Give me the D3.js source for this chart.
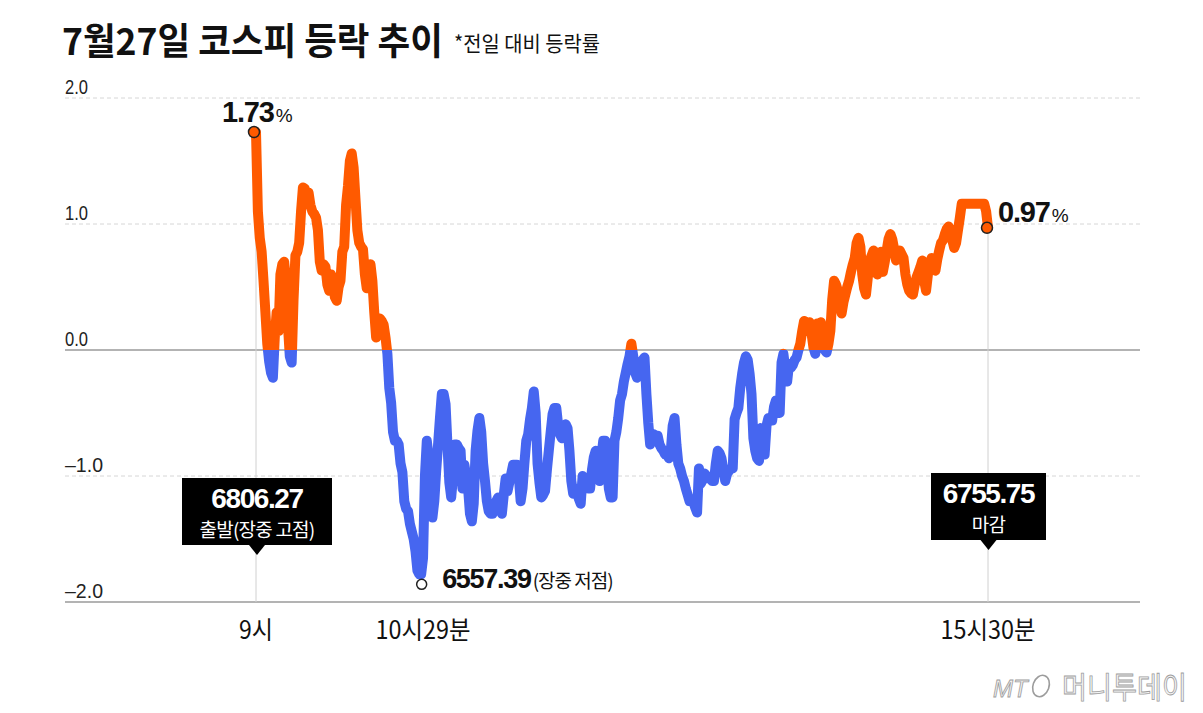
<!DOCTYPE html>
<html>
<head>
<meta charset="utf-8">
<script src="https://cdn.jsdelivr.net/npm/d3@7"></script>
<style>
  body { margin: 0; background: #fff; }
  svg text { font-family: "Noto Sans CJK KR", "Noto Sans", sans-serif; }
  .num { font-family: "Liberation Sans", Arial, sans-serif; }
</style>
</head>
<body>
<svg width="1203" height="713"></svg>
<script>
// y axis
const yTicks = [2, 1, 0, -1, -2];
const yTickLabels = ["2.0", "1.0", "0.0", "–1.0", "–2.0"];

// x axis (minutes after 9:00)
const xTicks = [0, 89, 390];
const xTickLabels = ["9시", "10시29분", "15시30분"];

// KOSPI change vs previous close (%), one value per minute from 9:00 to 15:30
const pct = [
  1.73, 1.10, 0.89, 0.78, 0.55, 0.30, 0.05, -0.09, -0.18, -0.22,
  0.10, 0.30, 0.15, 0.60, 0.68, 0.70, 0.55, 0.20, -0.05, -0.10,
  0.40, 0.75, 0.78, 0.85, 1.10, 1.29, 1.28, 1.22, 1.25, 1.15,
  1.10, 1.08, 1.05, 0.95, 0.70, 0.63, 0.68, 0.66, 0.52, 0.47,
  0.60, 0.55, 0.42, 0.39, 0.50, 0.55, 0.78, 0.82, 1.15, 1.30,
  1.50, 1.56, 1.45, 1.20, 0.95, 0.85, 0.82, 0.80, 0.60, 0.49,
  0.65, 0.68, 0.55, 0.30, 0.10, 0.20, 0.25, 0.23, 0.20, 0.10,
  -0.03, -0.30, -0.42, -0.65, -0.72, -0.72, -0.75, -0.90, -0.97, -1.20,
  -1.26, -1.28, -1.38, -1.44, -1.50, -1.60, -1.75, -1.78, -1.78, -1.65,
  -1.00, -0.72, -0.85, -0.96, -1.33, -1.20, -0.96, -0.75, -0.54, -0.35,
  -0.35, -0.43, -0.75, -1.05, -1.17, -1.00, -0.75, -0.75, -0.78, -0.80,
  -1.10, -0.91, -1.00, -1.10, -1.30, -1.36, -1.22, -0.80, -0.64, -0.54,
  -0.65, -0.90, -1.04, -1.20, -1.28, -1.30, -1.30, -1.25, -1.20, -1.17,
  -1.20, -1.30, -1.15, -1.02, -1.12, -1.05, -0.98, -0.91, -0.91, -0.91,
  -1.00, -1.20, -1.10, -0.90, -0.72, -0.67, -0.55, -0.46, -0.33, -0.50,
  -0.90, -1.05, -1.17, -1.15, -1.12, -0.95, -0.80, -0.65, -0.51, -0.46,
  -0.46, -0.60, -0.67, -0.70, -0.65, -0.59, -0.62, -0.80, -1.04, -1.14,
  -1.10, -1.12, -1.18, -1.22, -1.00, -1.02, -1.04, -1.10, -1.10, -0.95,
  -0.85, -0.80, -0.90, -1.04, -0.85, -0.72, -0.72, -0.90, -1.10, -1.17,
  -1.17, -0.72, -0.65, -0.54, -0.40, -0.35, -0.25, -0.18, -0.11, -0.05,
  0.05, -0.05, -0.18, -0.22, -0.16, -0.14, -0.08, -0.06, -0.35, -0.58,
  -0.75, -0.68, -0.67, -0.68, -0.68, -0.75, -0.78, -0.80, -0.83, -0.83,
  -0.86, -0.80, -0.60, -0.54, -0.75, -0.90, -0.94, -1.00, -1.04, -1.10,
  -1.15, -1.20, -1.20, -1.20, -1.25, -1.29, -0.94, -1.06, -1.03, -0.98,
  -1.00, -1.02, -1.02, -1.04, -1.04, -0.90, -0.80, -0.82, -0.86, -0.95,
  -1.04, -0.98, -0.96, -0.94, -0.94, -0.55, -0.50, -0.46, -0.30, -0.19,
  -0.10, -0.05, -0.08, -0.19, -0.35, -0.70, -0.80, -0.86, -0.88, -0.62,
  -0.75, -0.83, -0.60, -0.54, -0.56, -0.56, -0.45, -0.40, -0.50, -0.50,
  -0.10, -0.03, -0.15, -0.25, -0.11, -0.14, -0.12, -0.08, -0.06, 0.00,
  0.05, 0.15, 0.23, 0.15, 0.20, 0.22, 0.13, 0.02, -0.03, 0.21,
  0.20, 0.22, 0.10, 0.00, -0.02, 0.05, 0.15, 0.40, 0.55, 0.52,
  0.47, 0.38, 0.29, 0.38, 0.44, 0.50, 0.55, 0.62, 0.68, 0.73,
  0.85, 0.89, 0.82, 0.60, 0.49, 0.44, 0.58, 0.71, 0.75, 0.79,
  0.65, 0.60, 0.75, 0.78, 0.62, 0.70, 0.79, 0.88, 0.92, 0.88,
  0.80, 0.71, 0.76, 0.79, 0.76, 0.73, 0.60, 0.52, 0.47, 0.45,
  0.44, 0.52, 0.58, 0.62, 0.66, 0.71, 0.55, 0.47, 0.60, 0.68,
  0.73, 0.68, 0.63, 0.72, 0.79, 0.85, 0.87, 0.92, 0.96, 0.98,
  0.95, 0.87, 0.81, 0.85, 0.95, 1.05, 1.16, 1.16, 1.16, 1.16,
  1.16, 1.16, 1.16, 1.16, 1.16, 1.16, 1.16, 1.16, 1.16, 1.10,
  0.97
];

// marked points
const highMin = 0, highPct = 1.73, highIdx = "6806.27";
const lowMin = 88, lowPct = -1.86, lowIdx = "6557.39";
const closeMin = 390, closePct = 0.97, closeIdx = "6755.75";

const orange = "#ff5a00", blue = "#4666f0";

const svg = d3.select("svg");
const x = d3.scaleLinear().domain([0, 390]).range([256, 988]);
const y = d3.scaleLinear().domain([-2, 2]).range([602, 98]);
const left = 65, right = 1140;

// squeeze a text horizontally so it is w px wide (the source font is condensed)
function fit(t, px, py, w) {
  t.attr("x", 0).attr("y", 0);
  const s = w / t.node().getComputedTextLength();
  t.attr("transform", `translate(${px},${py}) scale(${s},1)`);
  return t;
}

// title
fit(svg.append("text")
  .attr("font-size", 37).attr("font-weight", 700).attr("fill", "#111")
  .text("7월27일 코스피 등락 추이"), 62, 55, 381);
fit(svg.append("text")
  .attr("font-size", 21).attr("fill", "#111")
  .text("*전일 대비 등락률"), 454, 51, 146);

// grid
yTicks.forEach((t, i) => {
  const solid = t === 0 || t === -2;
  svg.append("line")
    .attr("x1", left).attr("x2", right)
    .attr("y1", y(t)).attr("y2", y(t))
    .attr("stroke", solid ? "#9a9a9a" : "#d6d6d6")
    .attr("stroke-width", solid ? 1.5 : 1)
    .attr("stroke-dasharray", solid ? null : "4,3");
  fit(svg.append("text").attr("class", "num")
    .attr("font-size", 21).attr("fill", "#222")
    .text(yTickLabels[i]), left, y(t) - 4, t < 0 ? 38 : 23);
});

// vertical guides
[[highMin, highPct], [closeMin, closePct]].forEach(([m, v]) => {
  svg.append("line")
    .attr("x1", x(m)).attr("x2", x(m))
    .attr("y1", y(v)).attr("y2", y(-2))
    .attr("stroke", "#d0d0d0").attr("stroke-width", 1);
});

// x labels
xTicks.forEach((t, i) => {
  fit(svg.append("text")
    .attr("text-anchor", "middle")
    .attr("font-size", 25).attr("fill", "#111")
    .text(xTickLabels[i]), x(t), 639, [34, 95, 95][i]);
});

// line, orange above zero, blue below
const defs = svg.append("defs");
defs.append("clipPath").attr("id", "up").append("rect")
  .attr("x", 0).attr("y", 0).attr("width", 1203).attr("height", y(0));
defs.append("clipPath").attr("id", "down").append("rect")
  .attr("x", 0).attr("y", y(0)).attr("width", 1203).attr("height", 713 - y(0));

const line = d3.line().x((d, i) => x(i)).y(d => y(d));
[["up", orange], ["down", blue]].forEach(([id, c]) => {
  svg.append("path").datum(pct)
    .attr("clip-path", `url(#${id})`)
    .attr("d", line)
    .attr("fill", "none")
    .attr("stroke", c)
    .attr("stroke-width", 10)
    .attr("stroke-linejoin", "round")
    .attr("stroke-linecap", "round");
});

// dots
svg.append("circle").attr("cx", x(highMin) - 2).attr("cy", y(highPct)).attr("r", 5.5)
  .attr("fill", orange).attr("stroke", "#222").attr("stroke-width", 1.5);
svg.append("circle").attr("cx", x(closeMin) - 1).attr("cy", y(closePct)).attr("r", 5.5)
  .attr("fill", orange).attr("stroke", "#222").attr("stroke-width", 1.5);
svg.append("circle").attr("cx", x(lowMin) + 0.5).attr("cy", y(lowPct)).attr("r", 5)
  .attr("fill", "#fff").attr("stroke", "#222").attr("stroke-width", 1.5);

// percent labels: bold number + small %
function pctLabel(xs, ys, val) {
  const t = svg.append("text").attr("class", "num")
    .attr("x", xs).attr("y", ys).attr("fill", "#111");
  t.append("tspan").attr("font-size", 29).attr("font-weight", 700)
    .attr("letter-spacing", -1.2).text(val.toFixed(2));
  t.append("tspan").attr("dx", 2).attr("font-size", 19).text("%");
}
pctLabel(x(highMin) - 34, 122, highPct);
pctLabel(x(closeMin) + 10, 222, closePct);

// low label
const low = svg.append("text").attr("class", "num")
  .attr("x", x(lowMin) + 21).attr("y", 588).attr("fill", "#111");
low.append("tspan").attr("font-size", 27).attr("font-weight", 700)
  .attr("letter-spacing", -1.3).text(lowIdx);
low.append("tspan").attr("font-size", 19).attr("dx", 2)
  .style("font-family", '"Noto Sans CJK KR", sans-serif')
  .attr("letter-spacing", -1).text("(장중 저점)");

// callout boxes
function callout(cx, top, w, h, val, sub) {
  const g = svg.append("g");
  g.append("rect").attr("x", cx - w / 2).attr("y", top).attr("width", w).attr("height", h)
    .attr("fill", "#000");
  g.append("path")
    .attr("d", `M${cx - 8},${top + h} L${cx + 8},${top + h} L${cx},${top + h + 10} Z`)
    .attr("fill", "#000");
  g.append("text").attr("class", "num")
    .attr("x", cx).attr("y", top + 30).attr("text-anchor", "middle").attr("fill", "#fff")
    .attr("font-size", 28).attr("font-weight", 700).attr("letter-spacing", -1.4)
    .text(val);
  g.append("text")
    .attr("x", cx).attr("y", top + 59).attr("text-anchor", "middle").attr("fill", "#fff")
    .attr("font-size", 19).attr("letter-spacing", -0.8)
    .text(sub);
}
callout(x(highMin) + 1, 478, 150, 67, highIdx, "출발(장중 고점)");
callout(x(closeMin) + 0.5, 473, 115, 67, closeIdx, "마감");

// logo
svg.append("text").attr("class", "num")
  .attr("x", 993).attr("y", 697)
  .attr("font-size", 24).attr("font-style", "italic")
  .attr("fill", "#f2f2f2").attr("stroke", "#9c9c9c").attr("stroke-width", 0.8)
  .text("MT");
svg.append("ellipse").attr("cx", 1041).attr("cy", 686).attr("rx", 8).attr("ry", 11)
  .attr("transform", "rotate(20 1041 686)")
  .attr("fill", "none").attr("stroke", "#9c9c9c").attr("stroke-width", 1.6);
fit(svg.append("text")
  .attr("font-size", 30)
  .attr("fill", "#f4f4f4").attr("stroke", "#9c9c9c").attr("stroke-width", 0.8)
  .text("머니투데이"), 1062, 698, 125);
</script>
</body>
</html>
